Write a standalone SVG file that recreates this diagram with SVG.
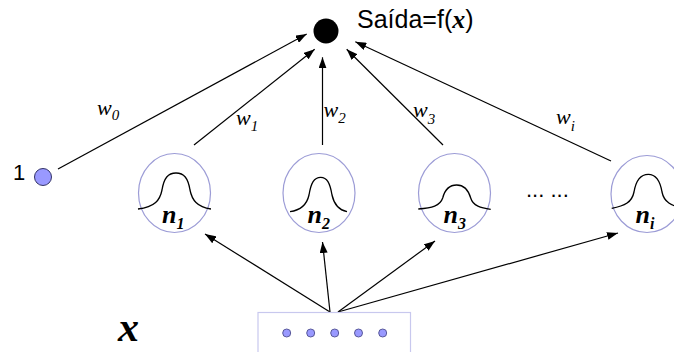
<svg xmlns="http://www.w3.org/2000/svg" width="674" height="352" viewBox="0 0 674 352">
  <style>
    .sans { font-family: "Liberation Sans", Arial, sans-serif; fill: #000; }
    .w { font-family: "Liberation Serif", "Times New Roman", serif; font-style: italic; fill: #000; }
    .n { font-family: "Liberation Serif", "Times New Roman", serif; font-style: italic; font-weight: bold; fill: #000; }
    .ring { fill: none; stroke: #9c9cd6; stroke-width: 1.2; }
    .bell { fill: none; stroke: #000; stroke-width: 1.3; }
    .edge { fill: none; stroke: #000; stroke-width: 1.2; marker-end: url(#ah); }
    .dot { fill: #9999ff; stroke: #5a5a9a; stroke-width: 1; }
  </style>
  <defs>
    <marker id="ah" markerWidth="11" markerHeight="8" refX="11" refY="4" orient="auto" markerUnits="userSpaceOnUse">
      <path d="M0,0 L11,4 L0,8 z" fill="#000"/>
    </marker>
  </defs>

  <g id="connectors">
    <path class="edge" d="M58,169 L306.7,34"/>
    <path class="edge" d="M194,145 L314.7,49.3"/>
    <path class="edge" d="M322.5,145 L322.5,57.3"/>
    <path class="edge" d="M443,145 L346.7,49.3"/>
    <path class="edge" d="M611,161 L355.3,41.7"/>
    <path class="edge" d="M330,312 L205,234"/>
    <path class="edge" d="M330,312 L322.5,242"/>
    <path class="edge" d="M338,312 L435,241"/>
    <path class="edge" d="M338,312 L618,233"/>
  </g>

  <g id="output">
    <circle cx="326" cy="31" r="12.5" fill="#000"/>
    <text class="sans" x="357" y="28" font-size="25">Saída=f(<tspan class="n" font-size="26">x</tspan>)</text>
  </g>

  <g id="bias">
    <circle cx="43" cy="177" r="8.5" fill="#9999ff" stroke="#333366" stroke-width="1"/>
    <text class="sans" x="13" y="180" font-size="22">1</text>
  </g>

  <g id="weights">
    <text class="w" x="97" y="115" font-size="22">w<tspan font-size="15" dy="5">0</tspan></text>
    <text class="w" x="236" y="125" font-size="22">w<tspan font-size="15" dy="6">1</tspan></text>
    <text class="w" x="323.5" y="117" font-size="22">w<tspan font-size="15" dy="6">2</tspan></text>
    <text class="w" x="413" y="117" font-size="22">w<tspan font-size="15" dy="7">3</tspan></text>
    <text class="w" x="556" y="124" font-size="22">w<tspan font-size="15" dy="7">i</tspan></text>
  </g>

  <g id="n1">
    <ellipse class="ring" cx="174.5" cy="193" rx="36" ry="39.5"/>
    <path class="bell" d="M138,209 C155,207 160,200 162,190 C164,178 168,173 176,173 C184,173 188,178 190,190 C192,200 197,207 211,209"/>
    <text class="n" x="162" y="223" font-size="26">n<tspan font-size="16" dy="6">1</tspan></text>
  </g>

  <g id="n2">
    <ellipse class="ring" cx="319" cy="193" rx="36" ry="39.5"/>
    <path class="bell" d="M290,211.7 C302,210 307,204 309,195 C311,183 314,177.3 320.7,177.3 C327,177.3 330,183 332,195 C334,204 339,210 347,211.7"/>
    <text class="n" x="307.5" y="223" font-size="26">n<tspan font-size="16" dy="6">2</tspan></text>
  </g>

  <g id="n3">
    <ellipse class="ring" cx="454.5" cy="193" rx="36" ry="39.5"/>
    <path class="bell" d="M418.3,209 C432,208 440,206 442.7,198 C445,189 449,185 456.7,185 C464,185 468,189 470.7,198 C473,206 481,208 490.7,209.3"/>
    <text class="n" x="443.5" y="223" font-size="26">n<tspan font-size="16" dy="6">3</tspan></text>
  </g>

  <g id="dots-gap">
    <text class="sans" x="526" y="197" font-size="22">... ...</text>
  </g>

  <g id="ni">
    <ellipse class="ring" cx="647" cy="194" rx="36" ry="38.5"/>
    <path class="bell" d="M611.7,208.3 C625,206 632,202 634,192 C636,180 641,174.3 648.3,174.3 C656,174.3 660,180 662,192 C664,202 671,206 684,208.3"/>
    <text class="n" x="635.5" y="223" font-size="26">n<tspan font-size="16" dy="6">i</tspan></text>
  </g>

  <g id="input">
    <rect x="258" y="312.5" width="152.5" height="45" fill="none" stroke="#c8c8ee" stroke-width="1.2"/>
    <circle class="dot" cx="286.7" cy="333" r="4"/>
    <circle class="dot" cx="310.7" cy="333" r="4"/>
    <circle class="dot" cx="334.7" cy="333" r="4"/>
    <circle class="dot" cx="358.5" cy="333" r="4"/>
    <circle class="dot" cx="382.7" cy="333" r="4"/>
    <text class="n" x="118" y="341" font-size="42">x</text>
  </g>
</svg>
